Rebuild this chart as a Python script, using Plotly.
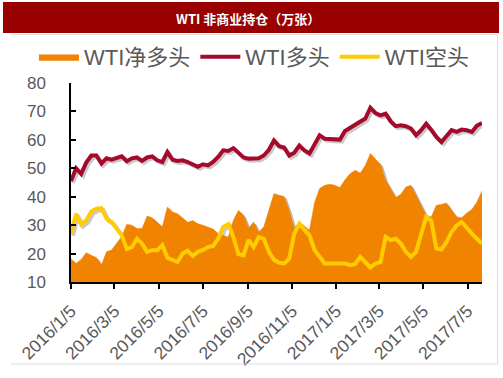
import pandas as pd
import plotly.graph_objects as go

# Weekly CFTC dates
dates = pd.date_range("2016-01-05", periods=82, freq="7D")

net_long = [18.2, 16.5, 17.9, 20.3, 19.4, 18.6, 16.0, 20.6, 21.3, 23.5,
            26.0, 30.3, 30.0, 28.8, 28.8, 33.2, 32.6, 31.0, 29.4, 36.4,
            34.6, 34.0, 32.5, 31.0, 31.6, 30.5, 30.0, 29.4, 28.6, 27.0,
            26.4, 25.8, 31.7, 35.2, 33.5, 29.0, 31.1, 27.6, 29.4, 35.5,
            41.1, 40.5, 40.1, 35.2, 29.0, 31.1, 29.5, 28.2, 38.0, 42.9,
            44.0, 44.4, 44.0, 43.2, 46.0, 48.1, 49.3, 48.3, 51.0, 55.2,
            53.1, 51.4, 45.8, 42.9, 39.7, 40.9, 43.4, 44.0, 40.5, 37.0,
            33.5, 32.9, 37.0, 37.3, 37.8, 35.2, 32.9, 32.6, 34.3, 35.5,
            38.1, 42.0]

long_pos = [45.5, 50.0, 48.0, 52.0, 54.5, 54.5, 51.7, 53.5, 53.0, 53.5,
            54.2, 52.5, 53.5, 53.8, 52.6, 53.8, 54.2, 52.8, 52.2, 55.7,
            53.0, 52.6, 52.8, 52.2, 51.4, 50.5, 51.4, 51.0, 52.2, 54.0,
            56.3, 56.1, 57.1, 55.4, 53.8, 53.4, 53.3, 53.5, 54.5, 56.5,
            59.8, 57.8, 57.3, 54.5, 55.5, 58.0, 56.3, 55.2, 58.4, 61.6,
            60.4, 60.4, 60.4, 60.1, 63.1, 64.3, 65.5, 66.3, 67.5, 71.3,
            69.4, 68.6, 69.2, 66.5, 64.8, 65.1, 64.8, 64.0, 61.6, 63.4,
            65.7, 63.5, 61.0, 59.2, 61.5, 63.4, 62.8, 63.6, 63.4, 62.8,
            65.0, 65.9]

short_pos = [27.0, 34.0, 30.3, 31.7, 34.8, 35.8, 36.0, 32.3, 31.1, 28.6,
             26.4, 21.6, 22.3, 25.2, 23.5, 20.6, 21.2, 21.2, 23.0, 18.5,
             17.8, 17.0, 20.0, 21.0, 19.2, 20.6, 21.3, 22.3, 22.7, 25.2,
             29.4, 30.4, 25.8, 19.8, 19.4, 24.8, 22.3, 25.8, 25.2, 20.6,
             17.8, 16.8, 16.5, 18.2, 27.0, 30.5, 28.4, 26.4, 21.2, 18.8,
             16.5, 16.5, 16.6, 16.7, 16.5, 15.9, 16.3, 18.8, 17.0, 15.1,
             16.5, 17.0, 25.8, 24.7, 25.2, 23.5, 20.6, 18.8, 20.6, 26.4,
             32.9, 31.5, 21.8, 21.4, 24.0, 27.6, 29.9, 31.1, 28.8, 27.0,
             25.2, 23.5]

series_names = ["WTI净多头", "WTI多头", "WTI空头"]
title_text = "WTI 非商业持仓（万张）"

FONT = "Liberation Sans, Arial, Noto Sans CJK SC, sans-serif"
ORANGE = "#F08300"
RED = "#A50A2D"
YELLOW = "#FFCC00"
GREY_TXT = "#595959"
SHADOW = "rgba(60,60,60,0.28)"

L, R, T, B = 71, 482, 83, 282
W, H = 503, 378
pw, ph = R - L, B - T
Y_RANGE = [10, 80]
x_range = [dates[0], dates[-1]]

# drop-shadow offset (pixels) converted to axis units for the hidden shadow axes
SH_PX = 2.0
days_span = (x_range[1] - x_range[0]).days
sh_dx = pd.Timedelta(days=SH_PX * days_span / pw)
sh_dy = SH_PX * (Y_RANGE[1] - Y_RANGE[0]) / ph

fig = go.Figure()
# soft shadows on hidden, slightly offset axes (x, y)
fig.add_trace(go.Scatter(x=dates, y=net_long, mode="lines", fill="tozeroy",
                         fillcolor=SHADOW, line=dict(color=SHADOW, width=1),
                         showlegend=False, hoverinfo="skip", xaxis="x", yaxis="y"))
fig.add_trace(go.Scatter(x=dates, y=long_pos, mode="lines",
                         line=dict(color=SHADOW, width=4),
                         showlegend=False, hoverinfo="skip", xaxis="x", yaxis="y"))
fig.add_trace(go.Scatter(x=dates, y=short_pos, mode="lines",
                         line=dict(color=SHADOW, width=4),
                         showlegend=False, hoverinfo="skip", xaxis="x", yaxis="y"))
# visible series on overlaying axes (x2, y2)
fig.add_trace(go.Scatter(x=dates, y=net_long, name=series_names[0], mode="lines",
                         fill="tozeroy", fillcolor=ORANGE,
                         line=dict(color=ORANGE, width=0.5), xaxis="x2", yaxis="y2"))
fig.add_trace(go.Scatter(x=dates, y=long_pos, name=series_names[1], mode="lines",
                         line=dict(color=RED, width=4), xaxis="x2", yaxis="y2"))
fig.add_trace(go.Scatter(x=dates, y=short_pos, name=series_names[2], mode="lines",
                         line=dict(color=YELLOW, width=4), xaxis="x2", yaxis="y2"))


def px(x):
    return (x - L) / pw


def py(y):
    return (B - y) / ph


fig.update_layout(
    width=W, height=H,
    margin=dict(l=L, r=W - R, t=T, b=H - B, pad=0, autoexpand=False),
    paper_bgcolor="white", plot_bgcolor="white",
    font=dict(family=FONT, color=GREY_TXT),
    showlegend=True,
    legend=dict(orientation="h", x=px(34), xanchor="left", y=py(57), yanchor="middle",
                font=dict(size=22, color=GREY_TXT, family=FONT),
                bgcolor="rgba(0,0,0,0)", itemwidth=40, tracegroupgap=0,
                traceorder="normal"),
    xaxis=dict(type="date", range=[x_range[0] - sh_dx, x_range[1] - sh_dx],
               visible=False, automargin=False, showgrid=False, zeroline=False),
    yaxis=dict(range=[Y_RANGE[0] + sh_dy, Y_RANGE[1] + sh_dy],
               visible=False, automargin=False, showgrid=False, zeroline=False),
    xaxis2=dict(type="date", range=x_range, automargin=False, overlaying="x",
                side="bottom", anchor="y2",
                tick0="2016-01-05", dtick="M2", tickformat="%Y/%-m/%-d",
                tickangle=-45, tickfont=dict(size=17.5, color=GREY_TXT),
                showgrid=False, zeroline=False,
                showline=True, linecolor="black", linewidth=2,
                ticks="outside", ticklen=5, tickcolor="black", tickwidth=1.5,
                ticklabelstandoff=5),
    yaxis2=dict(range=Y_RANGE, dtick=10, tick0=10, automargin=False,
                overlaying="y", side="left", anchor="x2",
                tickfont=dict(size=17, color=GREY_TXT),
                showgrid=False, zeroline=False,
                showline=True, linecolor="black", linewidth=1.5,
                ticks="inside", ticklen=5, tickcolor="black", tickwidth=1.5,
                ticklabelstandoff=20),
    shapes=[
        dict(type="rect", xref="paper", yref="paper",
             x0=px(3), x1=px(499), y0=py(33), y1=py(2),
             fillcolor="#990000", line=dict(width=0), layer="below"),
        dict(type="line", xref="paper", yref="paper",
             x0=px(11), x1=px(497.5), y0=py(34.5), y1=py(34.5),
             line=dict(color="#DDDDDD", width=1)),
        dict(type="line", xref="paper", yref="paper",
             x0=px(497.5), x1=px(497.5), y0=py(33), y1=py(364),
             line=dict(color="#DDDDDD", width=1)),
        dict(type="line", xref="paper", yref="paper",
             x0=px(11), x1=px(497.5), y0=py(364), y1=py(364),
             line=dict(color="#DDDDDD", width=1)),
    ],
    annotations=[
        dict(text="<b>" + title_text + "</b>", xref="paper", yref="paper",
             x=px(248), y=py(18), xanchor="center", yanchor="middle",
             showarrow=False,
             font=dict(size=13, color="white", family="Noto Sans CJK SC, sans-serif")),
    ],
)

fig.write_html("out.html", config={"displayModeBar": False},
               post_script="document.body.style.margin='0';document.body.style.overflow='hidden';")
